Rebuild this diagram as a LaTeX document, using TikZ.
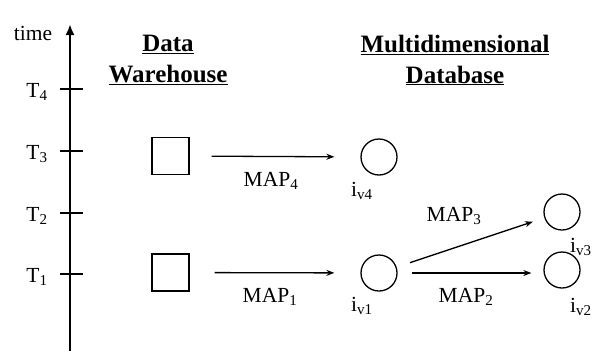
\documentclass[tikz,border=0pt]{standalone}
\usepackage{fontspec}
\setmainfont{Liberation Serif}
\usetikzlibrary{arrows.meta}

\tikzset{
  lbl/.style={inner sep=0pt, font=\fontsize{21.5}{24}\selectfont},
  head/.style={inner sep=0pt, align=center, font=\fontsize{25}{31}\selectfont\bfseries},
  dwbox/.style={draw, line width=1.3pt, minimum size=37pt, inner sep=0pt},
  mdnode/.style={draw, circle, line width=1.3pt, minimum size=36pt, inner sep=0pt},
  map/.style={line width=1.3pt, -{Stealth[length=8pt,width=6pt]}},
  tick/.style={line width=1.3pt}
}

\begin{document}
\begin{tikzpicture}[x=1pt,y=-1pt]
\useasboundingbox (0,0) rectangle (596,351);

% Drawing time axis
\coordinate (axbot) at (70,351);
\coordinate (axtop) at (70,24);
\draw [line width=2.6pt, -{Latex[length=11pt,width=9pt]}] (axbot) -- (axtop);
\node [lbl] (time) at (33,33) {time};

% Marking ticks T1 .. T4
\foreach \t/\y in {1/274, 2/213, 3/151, 4/89} {
  \coordinate (tl\t) at (60,\y);
  \coordinate (tr\t) at (83,\y);
  \draw [tick] (tl\t) -- (tr\t);
  \node [lbl] (T\t) at (37,\y+3) {T\textsubscript{\t}};
}

% Headings
\node [head] (dwhead) at (168,60) {\underline{Data}\\\underline{Warehouse}};
\node [head] (mdhead) at (455,60) {\underline{Multidimensional}\\\underline{Database}};

% Data warehouse boxes
\node [dwbox] (dw3) at (170.5,156) {};
\node [dwbox] (dw1) at (170.5,272.5) {};

% Multidimensional database nodes
\node [mdnode] (iv4) at (379,157) {};
\node [mdnode] (iv1) at (379,273) {};
\node [mdnode] (iv3) at (562,212) {};
\node [mdnode] (iv2) at (562,270) {};

% Node labels
\node [lbl] (liv4) at (362,191) {i\textsubscript{v4}};
\node [lbl] (liv1) at (362,306) {i\textsubscript{v1}};
\node [lbl] (liv3) at (581,247) {i\textsubscript{v3}};
\node [lbl] (liv2) at (581,307) {i\textsubscript{v2}};

% Drawing maps
\draw [map, shorten <=22pt, shorten >=26pt] (dw3) -- (iv4);
\node [lbl] (map4) at (271,181) {MAP\textsubscript{4}};

\draw [map, shorten <=25pt, shorten >=26pt] (dw1) -- (iv1);
\node [lbl] (map1) at (270,297) {MAP\textsubscript{1}};

\draw [map, shorten <=14pt, shorten >=12pt] (iv1) -- (iv3);
\node [lbl] (map3) at (454,216) {MAP\textsubscript{3}};

\draw [map, shorten <=14pt, shorten >=12pt] (iv1.east) -- (iv1.east -| iv2.west);
\node [lbl] (map2) at (466,297) {MAP\textsubscript{2}};
\end{tikzpicture}
\end{document}
